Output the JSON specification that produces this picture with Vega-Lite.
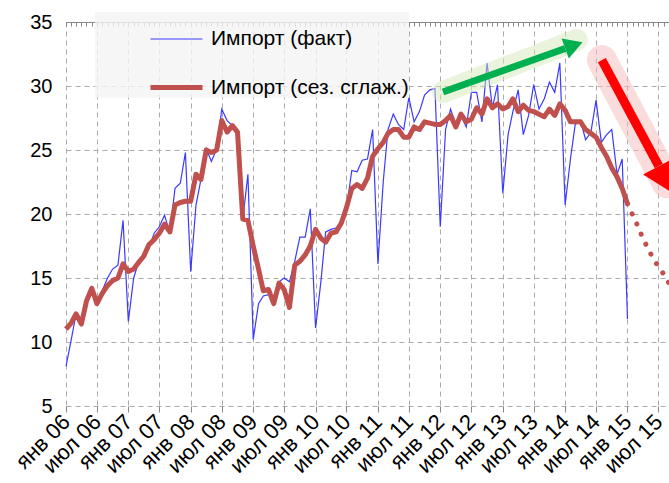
{
  "$schema": "https://vega.github.io/schema/vega-lite/v6.json",
  "width": 603,
  "height": 384,
  "autosize": {"type": "none"},
  "padding": {"left": 66, "top": 22, "right": 0, "bottom": 77},
  "background": "white",
  "config": {"view": {"stroke": null}, "font": "Liberation Sans"},
  "datasets": {
    "imp": [
      {"d":"2006-01-01","f":8.1,"s":11.0},{"d":"2006-02-01","f":10.2,"s":11.5},{"d":"2006-03-01","f":12.2,"s":12.2},{"d":"2006-04-01","f":11.5,"s":11.4},{"d":"2006-05-01","f":13.4,"s":13.2},{"d":"2006-06-01","f":14.3,"s":14.2},{"d":"2006-07-01","f":13.0,"s":13.0},{"d":"2006-08-01","f":14.0,"s":13.8},{"d":"2006-09-01","f":15.0,"s":14.4},{"d":"2006-10-01","f":15.7,"s":14.8},{"d":"2006-11-01","f":16.0,"s":15.0},{"d":"2006-12-01","f":19.5,"s":16.1},
      {"d":"2007-01-01","f":11.6,"s":15.5},{"d":"2007-02-01","f":15.0,"s":15.7},{"d":"2007-03-01","f":16.2,"s":16.2},{"d":"2007-04-01","f":16.7,"s":16.7},{"d":"2007-05-01","f":17.3,"s":17.6},{"d":"2007-06-01","f":18.5,"s":18.0},{"d":"2007-07-01","f":19.0,"s":18.5},{"d":"2007-08-01","f":19.9,"s":19.2},{"d":"2007-09-01","f":18.5,"s":18.6},{"d":"2007-10-01","f":22.0,"s":20.7},{"d":"2007-11-01","f":22.4,"s":20.9},{"d":"2007-12-01","f":24.8,"s":21.0},
      {"d":"2008-01-01","f":15.5,"s":21.0},{"d":"2008-02-01","f":20.7,"s":23.1},{"d":"2008-03-01","f":22.7,"s":22.7},{"d":"2008-04-01","f":25.1,"s":25.0},{"d":"2008-05-01","f":24.1,"s":24.8},{"d":"2008-06-01","f":25.1,"s":25.0},{"d":"2008-07-01","f":28.2,"s":27.3},{"d":"2008-08-01","f":27.3,"s":26.4},{"d":"2008-09-01","f":26.9,"s":26.9},{"d":"2008-10-01","f":26.4,"s":26.4},{"d":"2008-11-01","f":19.6,"s":19.6},{"d":"2008-12-01","f":23.1,"s":19.5},
      {"d":"2009-01-01","f":10.2,"s":17.5},{"d":"2009-02-01","f":13.0,"s":15.7},{"d":"2009-03-01","f":13.6,"s":14.0},{"d":"2009-04-01","f":13.7,"s":14.1},{"d":"2009-05-01","f":13.4,"s":13.0},{"d":"2009-06-01","f":14.7,"s":14.6},{"d":"2009-07-01","f":15.0,"s":14.1},{"d":"2009-08-01","f":14.7,"s":12.7},{"d":"2009-09-01","f":16.3,"s":16.0},{"d":"2009-10-01","f":18.2,"s":16.3},{"d":"2009-11-01","f":18.2,"s":16.8},{"d":"2009-12-01","f":20.4,"s":17.5},
      {"d":"2010-01-01","f":11.1,"s":18.8},{"d":"2010-02-01","f":14.7,"s":18.1},{"d":"2010-03-01","f":18.6,"s":17.8},{"d":"2010-04-01","f":18.8,"s":18.5},{"d":"2010-05-01","f":18.9,"s":18.6},{"d":"2010-06-01","f":19.4,"s":19.3},{"d":"2010-07-01","f":20.4,"s":20.5},{"d":"2010-08-01","f":23.4,"s":22.0},{"d":"2010-09-01","f":23.3,"s":22.3},{"d":"2010-10-01","f":24.2,"s":22.0},{"d":"2010-11-01","f":24.3,"s":22.8},{"d":"2010-12-01","f":26.6,"s":24.5},
      {"d":"2011-01-01","f":16.1,"s":25.1},{"d":"2011-02-01","f":22.5,"s":25.6},{"d":"2011-03-01","f":26.6,"s":26.3},{"d":"2011-04-01","f":27.8,"s":26.6},{"d":"2011-05-01","f":27.0,"s":26.6},{"d":"2011-06-01","f":26.6,"s":26.0},{"d":"2011-07-01","f":29.1,"s":26.0},{"d":"2011-08-01","f":27.2,"s":26.8},{"d":"2011-09-01","f":28.0,"s":26.6},{"d":"2011-10-01","f":29.3,"s":27.2},{"d":"2011-11-01","f":29.7,"s":27.1},{"d":"2011-12-01","f":29.8,"s":27.0},
      {"d":"2012-01-01","f":19.0,"s":27.0},{"d":"2012-02-01","f":26.6,"s":27.3},{"d":"2012-03-01","f":28.2,"s":27.7},{"d":"2012-04-01","f":27.0,"s":26.8},{"d":"2012-05-01","f":27.7,"s":27.8},{"d":"2012-06-01","f":26.8,"s":27.2},{"d":"2012-07-01","f":29.5,"s":27.4},{"d":"2012-08-01","f":29.5,"s":28.3},{"d":"2012-09-01","f":27.2,"s":27.8},{"d":"2012-10-01","f":31.8,"s":29.0},{"d":"2012-11-01","f":28.3,"s":28.3},{"d":"2012-12-01","f":30.1,"s":28.6},
      {"d":"2013-01-01","f":21.6,"s":28.2},{"d":"2013-02-01","f":26.2,"s":28.4},{"d":"2013-03-01","f":28.0,"s":29.0},{"d":"2013-04-01","f":29.7,"s":28.0},{"d":"2013-05-01","f":26.2,"s":28.5},{"d":"2013-06-01","f":27.7,"s":28.1},{"d":"2013-07-01","f":30.1,"s":28.0},{"d":"2013-08-01","f":28.2,"s":27.8},{"d":"2013-09-01","f":29.0,"s":27.6},{"d":"2013-10-01","f":30.3,"s":28.2},{"d":"2013-11-01","f":29.5,"s":27.7},{"d":"2013-12-01","f":31.8,"s":28.6},
      {"d":"2014-01-01","f":20.7,"s":28.1},{"d":"2014-02-01","f":24.3,"s":27.2},{"d":"2014-03-01","f":27.0,"s":27.2},{"d":"2014-04-01","f":27.3,"s":27.2},{"d":"2014-05-01","f":25.8,"s":26.6},{"d":"2014-06-01","f":26.4,"s":26.3},{"d":"2014-07-01","f":28.9,"s":26.0},{"d":"2014-08-01","f":25.6,"s":25.2},{"d":"2014-09-01","f":26.2,"s":24.5},{"d":"2014-10-01","f":26.6,"s":23.6},{"d":"2014-11-01","f":23.1,"s":22.9},{"d":"2014-12-01","f":24.3,"s":22.0},
      {"d":"2015-01-01","f":11.8,"s":20.8}
    ],
    "proj": [
      {"d":"2015-01-01","v":20.8},{"d":"2015-02-01","v":19.9},{"d":"2015-03-01","v":19.1},{"d":"2015-04-01","v":18.1},{"d":"2015-05-01","v":17.3},{"d":"2015-06-01","v":16.5},{"d":"2015-07-01","v":15.9},{"d":"2015-08-01","v":15.3},{"d":"2015-09-01","v":14.6},{"d":"2015-10-01","v":13.9}
    ]
  },
  "layer": [
    {
      "data": {"name": "imp"},
      "transform": [{"fold": ["f", "s"], "as": ["k", "v"]}, {"filter": "datum.k == 'f'"}],
      "mark": {"type": "line"},
      "encoding": {
        "x": {
          "field": "d", "type": "temporal",
          "scale": {"type": "utc", "nice": false, "domain": [{"year": 2006, "month": 1, "date": 1, "utc": true}, {"year": 2015, "month": 9, "date": 1, "utc": true}]},
          "axis": {
            "tickCount": {"interval": "month", "step": 6},
            "labelExpr": "(utcFormat(datum.value, '%m') == '01' ? 'янв ' : 'июл ') + utcFormat(datum.value, '%y')",
            "labelAngle": -45, "labelAlign": "right", "labelBaseline": "middle",
            "labelFontSize": 22, "labelColor": "#000", "labelPadding": 6,
            "labelOverlap": false, "labelBound": false, "labelFlush": false,
            "tickSize": 6, "tickColor": "#888", "domain": false,
            "grid": true, "gridDash": [5, 4], "gridColor": "#aaa", "title": null
          }
        },
        "y": {
          "field": "v", "type": "quantitative",
          "scale": {"domain": [5, 35], "nice": false},
          "axis": {"values": [5, 10, 15, 20, 25, 30, 35], "labelFontSize": 20, "labelColor": "#000", "labelPadding": 14, "ticks": false, "domain": false, "grid": true, "gridDash": [5, 4], "gridColor": "#aaa", "title": null}
        },
        "color": {
          "field": "k", "type": "nominal",
          "scale": {"domain": ["f", "s"], "range": ["#3a3aff", "#c0504d"]},
          "legend": {"orient": "none", "legendX": 29, "legendY": -10, "title": null, "symbolType": "stroke", "symbolSize": 2704, "symbolOffset": 53, "labelOffset": 6, "labelFontSize": 21, "labelColor": "#000", "rowPadding": 10, "padding": 0, "fillColor": "rgba(244,244,244,0.8)", "labelLimit": 400, "direction": "vertical", "labelExpr": "datum.value == 'f' ? 'Импорт (факт)' : 'Импорт (сез. сглаж.)'"}
        },
        "strokeWidth": {
          "field": "k", "type": "ordinal",
          "scale": {"domain": ["f", "s"], "range": [1.2, 5]},
          "legend": {"orient": "none", "legendX": 29, "legendY": -10, "title": null, "symbolType": "stroke", "symbolSize": 2704, "symbolOffset": 53, "labelOffset": 6, "labelFontSize": 21, "labelColor": "#000", "rowPadding": 10, "padding": 0, "fillColor": "rgba(244,244,244,0.8)", "labelLimit": 400, "direction": "vertical", "labelExpr": "datum.value == 'f' ? 'Импорт (факт)' : 'Импорт (сез. сглаж.)'"}
        }
      }
    },
    {
      "data": {"name": "imp"},
      "transform": [{"fold": ["f", "s"], "as": ["k", "v"]}, {"filter": "datum.k == 's'"}],
      "mark": {"type": "line", "strokeJoin": "round"},
      "encoding": {
        "x": {
          "field": "d", "type": "temporal",
          "axis": {"tickCount": {"interval": "month", "step": 1}, "labels": false, "grid": false, "ticks": true, "tickSize": -4, "tickColor": "#888", "domain": true, "domainColor": "#888", "title": null}
        },
        "y": {"field": "v", "type": "quantitative"},
        "color": {"field": "k", "type": "nominal"},
        "strokeWidth": {"field": "k", "type": "ordinal"}
      }
    },
    {
      "data": {"name": "proj"},
      "mark": {"type": "line", "color": "#c0504d", "strokeWidth": 5, "strokeDash": [0.1, 11], "strokeCap": "round", "clip": false},
      "encoding": {
        "x": {"field": "d", "type": "temporal", "axis": null},
        "y": {"field": "v", "type": "quantitative"}
      }
    },
    {
      "data": {"values": [{}]},
      "mark": {"type": "rule", "color": "#d5e7b8", "strokeWidth": 22, "opacity": 0.5, "strokeCap": "round", "clip": false},
      "encoding": {
        "x": {"datum": {"year": 2012, "month": 1, "date": 17, "utc": true}, "type": "temporal", "axis": null},
        "y": {"datum": 29.53, "type": "quantitative"},
        "x2": {"datum": {"year": 2014, "month": 3, "date": 10, "utc": true}},
        "y2": {"datum": 33.6}
      }
    },
    {
      "data": {"values": [{}]},
      "mark": {"type": "rule", "color": "#f7baba", "strokeWidth": 30, "opacity": 0.5, "strokeCap": "round", "clip": false},
      "encoding": {
        "x": {"datum": {"year": 2014, "month": 8, "date": 4, "utc": true}, "type": "temporal", "axis": null},
        "y": {"datum": 32.03, "type": "quantitative"},
        "x2": {"datum": {"year": 2015, "month": 8, "date": 20, "utc": true}},
        "y2": {"datum": 22.4}
      }
    },
    {
      "data": {"values": [{}]},
      "mark": {"type": "rule", "color": "#00b050", "strokeWidth": 7, "strokeCap": "butt", "clip": false},
      "encoding": {
        "x": {"datum": {"year": 2012, "month": 1, "date": 17, "utc": true}, "type": "temporal", "axis": null},
        "y": {"datum": 29.53, "type": "quantitative"},
        "x2": {"datum": {"year": 2014, "month": 1, "date": 1, "utc": true}},
        "y2": {"datum": 32.93}
      }
    },
    {
      "data": {"values": [{}]},
      "mark": {"type": "point", "shape": "triangle-up", "filled": true, "color": "#00b050", "opacity": 1, "size": 450, "angle": 70.4, "clip": false},
      "encoding": {
        "x": {"datum": {"year": 2014, "month": 2, "date": 21, "utc": true}, "type": "temporal", "axis": null},
        "y": {"datum": 33.17, "type": "quantitative"}
      }
    },
    {
      "data": {"values": [{}]},
      "mark": {"type": "rule", "color": "#ff0000", "strokeWidth": 9, "strokeCap": "butt", "clip": false},
      "encoding": {
        "x": {"datum": {"year": 2014, "month": 8, "date": 4, "utc": true}, "type": "temporal", "axis": null},
        "y": {"datum": 32.03, "type": "quantitative"},
        "x2": {"datum": {"year": 2015, "month": 7, "date": 3, "utc": true}},
        "y2": {"datum": 23.75}
      }
    },
    {
      "data": {"values": [{}]},
      "mark": {"type": "point", "shape": "triangle-up", "filled": true, "color": "#ff0000", "opacity": 1, "size": 1300, "angle": 152.3, "clip": false},
      "encoding": {
        "x": {"datum": {"year": 2015, "month": 8, "date": 16, "utc": true}, "type": "temporal", "axis": null},
        "y": {"datum": 22.67, "type": "quantitative"}
      }
    }
  ],
  "resolve": {"axis": {"x": "independent"}}
}
